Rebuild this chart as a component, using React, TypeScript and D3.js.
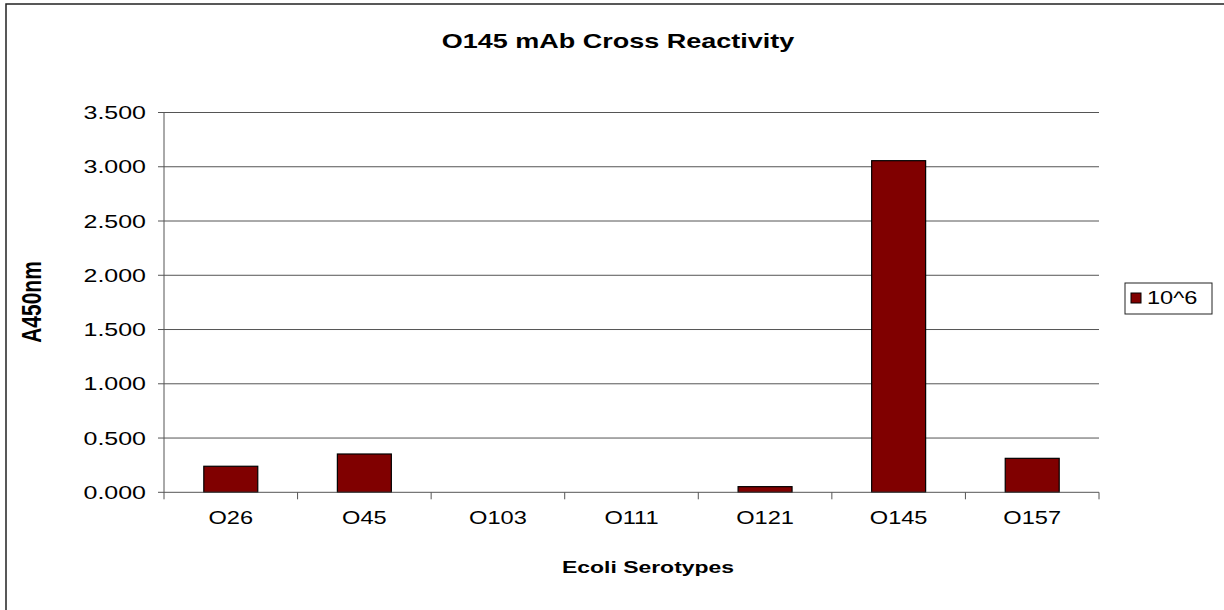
import React from "react";
import * as d3 from "d3";

const categories = ["O26", "O45", "O103", "O111", "O121", "O145", "O157"];
const values = [0.24, 0.353, 0, 0, 0.052, 3.056, 0.313];
const yTicks = [0, 0.5, 1.0, 1.5, 2.0, 2.5, 3.0, 3.5];
const seriesName = "10^6";
const title = "O145 mAb Cross Reactivity";
const xTitle = "Ecoli Serotypes";
const yTitle = "A450nm";

const W = 1224;
const H = 610;
const plot = { left: 164, right: 1099, top: 112.5, bottom: 492.3 };
const SX = 1.35;
const FONT = "'Liberation Sans', Arial, sans-serif";

function T({ x, y, size, bold, anchor, children, rotate }: any) {
  const tr = rotate
    ? `translate(${x},${y}) scale(${SX},1) rotate(${rotate})`
    : `translate(${x},${y}) scale(${SX},1)`;
  return (
    <text
      transform={tr}
      fontFamily={FONT}
      fontSize={size}
      fontWeight={bold ? "bold" : "normal"}
      textAnchor={anchor || "start"}
      fill="#000"
    >
      {children}
    </text>
  );
}

export default function App() {
  const x = d3.scaleBand<string>().domain(categories).range([plot.left, plot.right]).paddingInner(0.596).paddingOuter(0.298);
  const xb = d3.scaleBand<string>().domain(categories).range([plot.left, plot.right]);
  const y = d3.scaleLinear().domain([0, 3.5]).range([plot.bottom, plot.top]);
  const fmt = d3.format(".3f");

  return (
    <svg width={W} height={H} style={{ position: "absolute", left: 0, top: 0, background: "#fff" }}>
      <rect x={6} y={4} width={W + 20} height={H + 20} fill="#fff" stroke="#222" strokeWidth={1.5} />
      <T x={618} y={48} size={20} bold anchor="middle">{title}</T>
      {yTicks.map((t) => (
        <g key={t}>
          {t > 0 && (
            <line x1={plot.left} x2={plot.right} y1={y(t)} y2={y(t)} stroke="#555" strokeWidth={1} />
          )}
          <line x1={plot.left - 6} x2={plot.left} y1={y(t)} y2={y(t)} stroke="#555" />
          <T x={146} y={y(t) + 6.5} size={18.5} anchor="end">{fmt(t)}</T>
        </g>
      ))}
      {categories.map((c, i) => (
        <rect
          key={c}
          x={x(c)}
          y={y(values[i])}
          width={x.bandwidth()}
          height={plot.bottom - y(values[i])}
          fill="#800000"
          stroke="#000"
          strokeWidth={1.2}
        />
      ))}
      <line x1={plot.left} x2={plot.left} y1={plot.top} y2={plot.bottom} stroke="#555" />
      <line x1={plot.left} x2={plot.right} y1={plot.bottom} y2={plot.bottom} stroke="#555" />
      {[...categories.map((c) => xb(c) as number), plot.right].map((v, i) => (
        <line key={i} x1={v} x2={v} y1={plot.bottom} y2={plot.bottom + 7} stroke="#555" />
      ))}
      {categories.map((c) => (
        <T key={c} x={(xb(c) as number) + xb.bandwidth() / 2} y={524} size={17.5} anchor="middle">{c}</T>
      ))}
      <T x={648} y={573} size={17} bold anchor="middle">{xTitle}</T>
      <T x={41} y={302} size={21} bold anchor="middle" rotate={-90}>{yTitle}</T>
      <rect x={1125} y={283} width={87} height={31} fill="#fff" stroke="#222" strokeWidth={1} />
      <rect x={1131} y={293} width={10} height={10} fill="#800000" stroke="#000" />
      <T x={1147} y={304} size={17.5}>{seriesName}</T>
    </svg>
  );
}
